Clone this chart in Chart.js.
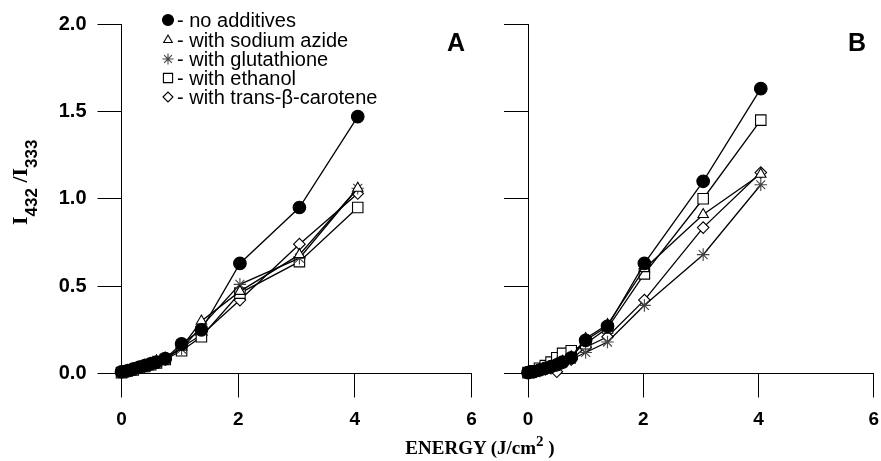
<!DOCTYPE html>
<html>
<head>
<meta charset="utf-8">
<script src="https://cdn.jsdelivr.net/npm/chart.js@4.4.1/dist/chart.umd.min.js"></script>
<style>
  html, body { margin: 0; padding: 0; background: #fff; }
  #wrap { position: relative; width: 881px; height: 461px; overflow: hidden; background: #fff; }
  canvas { position: absolute; top: 0; }
  #chartA { left: 0; }
  #chartB { left: 480px; }
  #xtitle {
    position: absolute; left: 0; width: 960px; top: 438px;
    text-align: center; font: bold 19px "Liberation Serif", "Times New Roman", serif;
    line-height: 19px; color: #000; white-space: nowrap;
  }
  #xtitle .sup { position: relative; top: -8px; font-size: 15px; }
</style>
</head>
<body>
<div id="wrap">
  <canvas id="chartA" width="490" height="461"></canvas>
  <canvas id="chartB" width="410" height="461"></canvas>
  <div id="xtitle">ENERGY (J/cm<span class="sup">2</span> )</div>
</div>
<script>
// energies (J/cm2)
const energyA = [0, 0.1, 0.2, 0.3, 0.4, 0.5, 0.6, 0.75, 1.03, 1.37, 2.03, 3.05, 4.05];
const energyB = [0, 0.1, 0.2, 0.3, 0.4, 0.5, 0.6, 0.75, 1.0, 1.38, 2.02, 3.04, 4.04];

// panel A, I432/I333
const noAdditivesA = [0.01, 0.015, 0.025, 0.035, 0.045, 0.055, 0.065, 0.085, 0.17, 0.25, 0.63, 0.95, 1.47];
const azideA       = [0.01, 0.015, 0.025, 0.035, 0.045, 0.055, 0.07, 0.085, 0.15, 0.30, 0.47, 0.68, 1.06];
const glutathioneA = [0.01, 0.02, 0.03, 0.04, 0.05, 0.06, 0.075, 0.09, 0.14, 0.27, 0.51, 0.66, 1.06];
const ethanolA     = [0.005, 0.015, 0.02, 0.03, 0.04, 0.05, 0.06, 0.08, 0.13, 0.21, 0.46, 0.64, 0.95];
const caroteneA    = [0.01, 0.015, 0.025, 0.035, 0.045, 0.055, 0.065, 0.08, 0.15, 0.22, 0.42, 0.74, 1.03];

// panel B
const noAdditivesB = [0.005, 0.01, 0.02, 0.03, 0.04, 0.05, 0.065, 0.09, 0.19, 0.27, 0.63, 1.10, 1.63];
const azideB       = [0.005, 0.01, 0.02, 0.03, 0.04, 0.055, 0.07, 0.095, 0.20, 0.28, 0.60, 0.91, 1.14];
const glutathioneB = [0.005, 0.01, 0.015, 0.025, 0.035, 0.045, 0.06, 0.08, 0.12, 0.18, 0.39, 0.68, 1.08];
const ethanolB     = [0.005, 0.015, 0.03, 0.045, 0.065, 0.09, 0.115, 0.13, 0.17, 0.26, 0.57, 1.00, 1.45];
const caroteneB    = [0.005, 0.01, 0.02, 0.025, 0.03, 0.01, 0.06, 0.08, 0.15, 0.21, 0.42, 0.835, 1.15];

const seriesNames = ['no additives', 'with sodium azide', 'with glutathione', 'with ethanol', 'with trans-\u03B2-carotene'];
const xTicks = [0, 2, 4, 6];
const yTicks = [0.0, 0.5, 1.0, 1.5, 2.0];

// marker look per series
const markers = [
  { pointStyle: 'circle',   radius: 6.3, fill: '#000', stroke: '#000' },
  { pointStyle: 'triangle', radius: 6,   fill: '#fff', stroke: '#000' },
  { pointStyle: 'star',     radius: 6.3, fill: '#fff', stroke: '#444' },
  { pointStyle: 'rect',     radius: 7.4, fill: '#fff', stroke: '#000' },
  { pointStyle: 'rectRot',  radius: 5.8, fill: '#fff', stroke: '#000' }
];

const sans = '"Liberation Sans", Arial, sans-serif';
const narrow = '"Liberation Sans Narrow", "Liberation Sans", Arial, sans-serif';
const serif = '"Liberation Serif", "Times New Roman", serif';

function buildDatasets(xs, seriesList) {
  return seriesList.map((ys, i) => ({
    label: seriesNames[i],
    data: xs.map((x, j) => ({ x: x, y: ys[j] })),
    borderColor: '#000',
    borderWidth: 1.3,
    pointStyle: markers[i].pointStyle,
    pointRadius: markers[i].radius,
    pointBackgroundColor: markers[i].fill,
    pointBorderColor: markers[i].stroke,
    pointBorderWidth: 1.1,
    showLine: true,
    tension: 0,
    clip: false
  }));
}

function buildScales(yWidth, showYLabels) {
  return {
    x: {
      type: 'linear', min: 0, max: 6,
      afterBuildTicks: s => { s.ticks = xTicks.map(v => ({ value: v })); },
      afterFit: s => { s.height = 87.5; },
      ticks: {
        color: '#000', padding: 11, maxRotation: 0,
        font: { family: narrow, size: 19, weight: 'bold' },
        callback: v => String(v)
      },
      grid: { drawOnChartArea: false, drawTicks: true, tickLength: 24, color: '#000', lineWidth: 1 },
      border: { display: true, color: '#000', width: 1 }
    },
    y: {
      type: 'linear', min: 0, max: 2,
      afterBuildTicks: s => { s.ticks = yTicks.map(v => ({ value: v })); },
      afterFit: s => { s.width = yWidth; },
      ticks: {
        color: '#000', padding: 11,
        font: { family: sans, size: 20, weight: 'bold' },
        callback: v => showYLabels ? Number(v).toFixed(1) : ''
      },
      grid: { drawOnChartArea: false, drawTicks: true, tickLength: 24, color: '#000', lineWidth: 1 },
      border: { display: true, color: '#000', width: 1 }
    }
  };
}

function drawMarker(ctx, m, x, y, r) {
  ctx.save();
  ctx.fillStyle = m.fill;
  ctx.strokeStyle = m.stroke;
  ctx.lineWidth = 1.1;
  if (Chart.helpers && Chart.helpers.drawPoint) {
    Chart.helpers.drawPoint(ctx, { pointStyle: m.pointStyle, radius: r, rotation: 0, borderWidth: 1.1 }, x, y);
  }
  ctx.restore();
}

const panelA = {
  id: 'panelA',
  afterDraw(chart) {
    const ctx = chart.ctx;
    ctx.save();
    // legend
    const rowY = [20, 40, 59, 78, 97];
    const legendR = [5.5, 5, 5.5, 6.5, 5];
    ctx.fillStyle = '#000';
    ctx.textBaseline = 'middle';
    seriesNames.forEach((name, i) => {
      drawMarker(ctx, markers[i], 168, rowY[i], legendR[i]);
      ctx.fillStyle = '#000';
      ctx.font = '20px ' + sans;
      ctx.textAlign = 'left';
      ctx.fillText('- ' + name, 177, rowY[i] + 1);
    });
    // panel letter
    ctx.font = 'bold 25px ' + sans;
    ctx.textAlign = 'center';
    ctx.fillText('A', 456, 44);
    // y axis title, rotated
    ctx.translate(27, 225);
    ctx.rotate(-Math.PI / 2);
    ctx.textAlign = 'left';
    ctx.textBaseline = 'alphabetic';
    let u = 0;
    const part = (txt, font, v) => {
      ctx.font = font;
      ctx.fillText(txt, u, v);
      u += ctx.measureText(txt).width;
    };
    part('I', 'bold 22px ' + serif, 0);
    part('432', 'bold 17px ' + sans, 10);
    part(' /', 'bold 22px ' + serif, 0);
    part('I', 'bold 22px ' + serif, 0);
    part('333', 'bold 17px ' + sans, 10);
    ctx.restore();
  }
};

const panelB = {
  id: 'panelB',
  afterDraw(chart) {
    const ctx = chart.ctx;
    ctx.save();
    ctx.fillStyle = '#000';
    ctx.font = 'bold 25px ' + sans;
    ctx.textAlign = 'center';
    ctx.textBaseline = 'middle';
    ctx.fillText('B', 377, 44);
    ctx.restore();
  }
};

new Chart(document.getElementById('chartA'), {
  type: 'scatter',
  data: { datasets: buildDatasets(energyA, [noAdditivesA, azideA, glutathioneA, ethanolA, caroteneA]) },
  options: {
    responsive: false, animation: false,
    layout: { padding: { left: 0, top: 24, right: 18.5, bottom: 0 } },
    scales: buildScales(121.5, true),
    plugins: { legend: { display: false }, tooltip: { enabled: false } }
  },
  plugins: [panelA]
});

new Chart(document.getElementById('chartB'), {
  type: 'scatter',
  data: { datasets: buildDatasets(energyB, [noAdditivesB, azideB, glutathioneB, ethanolB, caroteneB]) },
  options: {
    responsive: false, animation: false,
    layout: { padding: { left: 0, top: 24, right: 13, bottom: 0 } },
    scales: buildScales(48, false),
    plugins: { legend: { display: false }, tooltip: { enabled: false } }
  },
  plugins: [panelB]
});
</script>
</body>
</html>
